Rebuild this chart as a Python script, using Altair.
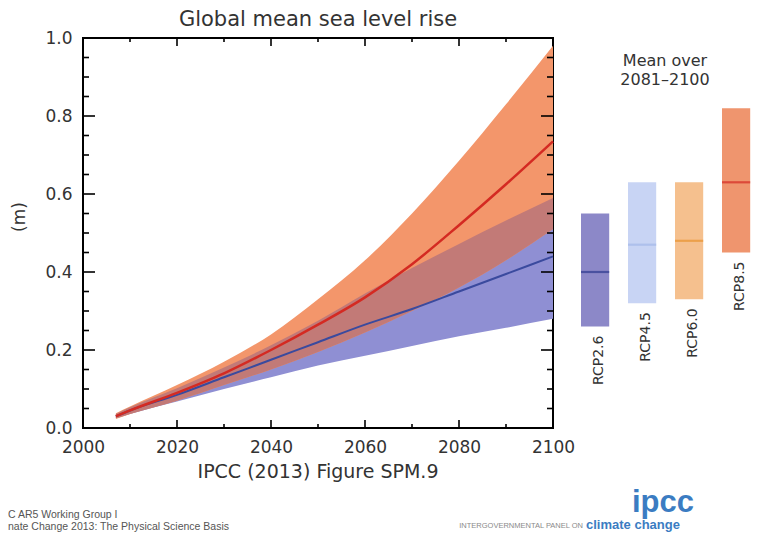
import altair as alt
import pandas as pd

# ---------------- data ----------------
years     = [2007, 2010, 2020, 2030, 2040, 2050, 2060, 2070, 2080, 2090, 2100]
rcp26_mid = [0.030, 0.045, 0.085, 0.130, 0.175, 0.220, 0.265, 0.305, 0.350, 0.395, 0.440]
rcp26_lo  = [0.025, 0.036, 0.068, 0.100, 0.130, 0.160, 0.185, 0.210, 0.235, 0.257, 0.280]
rcp26_hi  = [0.036, 0.053, 0.102, 0.155, 0.212, 0.275, 0.345, 0.410, 0.472, 0.532, 0.590]
rcp85_mid = [0.030, 0.045, 0.090, 0.140, 0.200, 0.265, 0.335, 0.420, 0.520, 0.625, 0.735]
rcp85_lo  = [0.023, 0.036, 0.070, 0.110, 0.150, 0.195, 0.245, 0.300, 0.360, 0.430, 0.510]
rcp85_hi  = [0.038, 0.055, 0.110, 0.170, 0.240, 0.330, 0.430, 0.550, 0.685, 0.830, 0.980]

scenarios  = ["RCP2.6", "RCP4.5", "RCP6.0", "RCP8.5"]
bar_mean   = [0.40, 0.47, 0.48, 0.63]
bar_low    = [0.26, 0.32, 0.33, 0.45]
bar_high   = [0.55, 0.63, 0.63, 0.82]

x_major = [2000, 2020, 2040, 2060, 2080, 2100]
x_minor = [2010, 2030, 2050, 2070, 2090]
y_major = [0.0, 0.2, 0.4, 0.6, 0.8, 1.0]
y_minor = [0.05, 0.10, 0.15, 0.25, 0.30, 0.35, 0.45, 0.50, 0.55,
           0.65, 0.70, 0.75, 0.85, 0.90, 0.95]

# ---------------- styles ----------------
FONT = "DejaVu Sans"
TXT = "#333333"
bar_fill = ["#8C88C8", "#C8D4F4", "#F5C08E", "#EF956E"]
bar_line = ["#2E3B8E", "#A3B8E8", "#E8932F", "#D42A22"]
C_BLUE_BAND = "#8F8FD3"
C_ORANGE_BAND = "#F3966B"
C_OVERLAP = "#C27A77"
C_RED = "#D42A22"
C_BLUE = "#3A4A9E"

W, H = 470, 390

# ---------------- tables ----------------
df = pd.DataFrame({
    "year": years,
    "rcp26_mid": rcp26_mid, "rcp26_lo": rcp26_lo, "rcp26_hi": rcp26_hi,
    "rcp85_mid": rcp85_mid, "rcp85_lo": rcp85_lo, "rcp85_hi": rcp85_hi,
})
df["ov_lo"] = df[["rcp26_lo", "rcp85_lo"]].max(axis=1)
df["ov_hi"] = df[["rcp26_hi", "rcp85_hi"]].min(axis=1)

bdf = pd.DataFrame({
    "scenario": scenarios, "mean": bar_mean, "low": bar_low, "high": bar_high,
    "fill": bar_fill, "line": bar_line,
})

xs = alt.Scale(domain=[2000, 2100], nice=False, zero=False, padding=0)
ys = alt.Scale(domain=[0, 1], nice=False, zero=False, padding=0)

x_axis = alt.Axis(values=x_major, format="d", ticks=False, domain=False,
                  grid=False, labelPadding=11, labelFontSize=17, labelFlush=False,
                  labelFont=FONT, labelColor=TXT, title=None, orient="bottom")
y_axis = alt.Axis(values=y_major, format=".1f", ticks=False, domain=False,
                  grid=False, labelPadding=11, labelFontSize=17, labelFlush=False,
                  labelFont=FONT, labelColor=TXT, title=None, orient="left")


def X(field):
    return alt.X(field, type="quantitative", scale=xs, axis=x_axis)


def Y(field):
    return alt.Y(field, type="quantitative", scale=ys, axis=y_axis)


base = alt.Chart(df)
band26 = base.mark_area(interpolate="monotone", color=C_BLUE_BAND).encode(
    x=X("year"), y=Y("rcp26_lo"), y2="rcp26_hi")
band85 = base.mark_area(interpolate="monotone", color=C_ORANGE_BAND).encode(
    x=X("year"), y=Y("rcp85_lo"), y2="rcp85_hi")
bandov = base.mark_area(interpolate="monotone", color=C_OVERLAP).encode(
    x=X("year"), y=Y("ov_lo"), y2="ov_hi")
line26 = base.mark_line(interpolate="monotone", color=C_BLUE, strokeWidth=2).encode(
    x=X("year"), y=Y("rcp26_mid"))
line85 = base.mark_line(interpolate="monotone", color=C_RED, strokeWidth=2.5).encode(
    x=X("year"), y=Y("rcp85_mid"))

# inward frame ticks
xmaj = pd.DataFrame({"year": x_major})
xmin = pd.DataFrame({"year": x_minor})
ymaj = pd.DataFrame({"v": y_major})
ymin = pd.DataFrame({"v": y_minor})


def xticks(d, ln):
    r = alt.Chart(d).mark_rule(color="black", strokeWidth=1.6)
    return [r.encode(x=X("year"), y=alt.value(H), y2=alt.value(H - ln)),
            r.encode(x=X("year"), y=alt.value(0), y2=alt.value(ln))]


def yticks(d, ln):
    r = alt.Chart(d).mark_rule(color="black", strokeWidth=1.6)
    return [r.encode(y=Y("v"), x=alt.value(0), x2=alt.value(ln)),
            r.encode(y=Y("v"), x=alt.value(W), x2=alt.value(W - ln))]


ticks = xticks(xmaj, 8) + xticks(xmin, 4) + yticks(ymaj, 12) + yticks(ymin, 6)

main = alt.layer(band26, band85, bandov, line26, line85, *ticks)

# right panel: mean over 2081-2100
XB = alt.X("scenario:N", sort=scenarios, axis=None,
           scale=alt.Scale(domain=scenarios, range=[498, 667.2],
                           paddingInner=0.4, paddingOuter=0))
bb = alt.Chart(bdf)
bars = bb.mark_bar().encode(x=XB, y=Y("high"), y2="low",
                            color=alt.Color("fill:N", scale=None))
means = bb.mark_tick(size=28.2, thickness=2.2).encode(
    x=XB, y=Y("mean"), color=alt.Color("line:N", scale=None))
labels = bb.mark_text(angle=270, align="right", baseline="middle", dx=-9, dy=4,
                      fontSize=14, font=FONT, color=TXT).encode(
    x=XB, y=Y("low"), text="scenario:N")
panel = alt.layer(bars, means, labels)

# annotations
one = pd.DataFrame({"a": [0]})


def txt(s, x, y, **kw):
    opts = dict(font=FONT, color=TXT, baseline="middle", align="center")
    opts.update(kw)
    return alt.Chart(one).mark_text(text=s, **opts).encode(x=alt.value(x), y=alt.value(y))


annots = [
    txt("Global mean sea level rise", W / 2, -18, fontSize=21),
    txt("(m)", -63, 179, fontSize=17, angle=270),
    txt("IPCC (2013) Figure SPM.9", W / 2, 434, fontSize=19),
    txt("Mean over", 582, 23, fontSize=16),
    txt("2081\u20132100", 582, 42, fontSize=16),
    txt("C AR5 Working Group I", -75, 477, align="left", fontSize=10.5,
        font="Liberation Sans", color="#555555"),
    txt("nate Change 2013:  The Physical Science Basis", -75, 489, align="left",
        fontSize=10.5, font="Liberation Sans", color="#555555"),
    txt("ipcc", 580, 474, baseline="alphabetic", fontSize=31, fontWeight="bold",
        font="Liberation Sans", color="#3B7CC2"),
    txt("INTERGOVERNMENTAL PANEL ON", 500, 488, align="right", fontSize=7.5,
        font="Liberation Sans", color="#8A8A8A"),
    txt("climate change", 503, 487, align="left", fontSize=13, fontWeight="bold",
        font="Liberation Sans", color="#3B7CC2"),
]

chart = alt.layer(main, panel, *annots).resolve_scale(
    x="independent", y="shared"
).resolve_axis(x="independent", y="shared").properties(
    width=W, height=H,
    padding={"left": 75, "top": 30, "right": 198, "bottom": 106},
    autosize=alt.AutoSizeParams(type="none"),
    background="white",
).configure_view(stroke="black", strokeWidth=2)

chart.save("out.html", embed_options={"renderer": "svg", "actions": False})
